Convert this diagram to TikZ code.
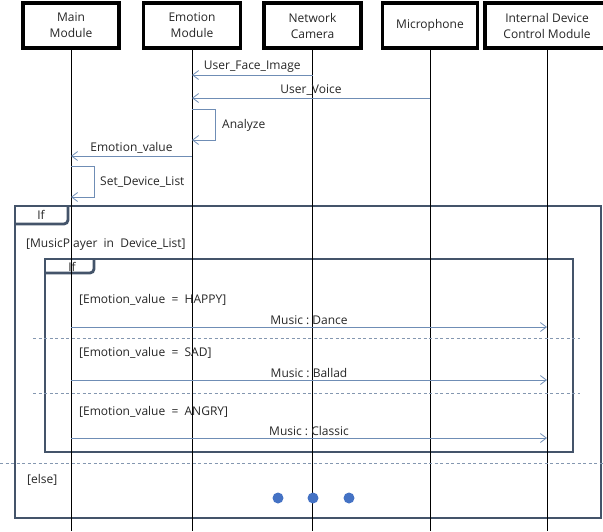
\documentclass[tikz,border=0pt]{standalone}
\usepackage{fontspec}
\setmainfont{Open Sans}
\usepackage{tikz}
\usetikzlibrary{arrows.meta,calc}
\usepackage{xcolor}
\definecolor{framec}{HTML}{44546A}
\definecolor{msgc}{HTML}{6F8DB5}
\definecolor{sepc}{HTML}{8497B0}
\definecolor{dotc}{HTML}{4472C4}
\tikzset{
  actor/.style={draw=black, line width=3.2pt, fill=white, minimum width=96pt, minimum height=45pt, align=center, inner sep=0pt},
  life/.style={line width=0.8pt},
  msg/.style={draw=msgc, line width=0.8pt, -{Straight Barb[length=6pt,width=9pt]}},
  lbl/.style={above, inner sep=2pt},
  frame/.style={draw=framec, line width=2.8pt},
  sep/.style={draw=sepc, line width=0.8pt, dash pattern=on 3pt off 2.5pt},
  guard/.style={anchor=west, inner sep=0pt},
  dot/.style={circle, fill=dotc, minimum size=11pt, inner sep=0pt}
}

\begin{document}
\begin{tikzpicture}[x=1pt, y=-1pt, font=\fontsize{12}{16}\selectfont, text=black!85]
\useasboundingbox (0,0) rectangle (603,531);
\draw [frame] (15,206) rectangle (601,518);
\draw [frame, rounded corners=4pt] (15,224) -- (68,224) -- (68,206);
\node (ifa) at (41,215) {If};
\node [guard] (gmp) at (26,244) {[MusicPlayer\ \ in\ \ Device\_List]};
\draw [frame] (45,259) rectangle (573,452);
\draw [frame, rounded corners=4pt] (45,273) -- (94,273) -- (94,259);
\node (ifb) at (72,267) {If};
\node [actor] (main) at (71,25.5) {Main\\Module};
\node [actor, minimum width=97pt] (emo) at (192,25.5) {Emotion\\Module};
\node [actor, minimum width=97pt] (cam) at (312.5,25.5) {Network\\Camera};
\node [actor, minimum width=95pt] (mic) at (430,25.5) {Microphone};
\node [actor, minimum width=124pt] (idc) at (547,25.5) {Internal Device\\Control Module};
\foreach \b in {main,emo,cam,mic,idc}
  \draw [life] (\b.south) -- (\b.south |- 0,531);
\draw [msg] (cam.south |- 0,75) -- node[lbl] {User\_Face\_Image} (emo.south |- 0,75);
\draw [msg] (mic.south |- 0,98) -- node[lbl] {User\_Voice} (emo.south |- 0,98);
\draw [msg] (emo.south |- 0,109) -- ++(23,0) |- (emo.south |- 0,140);
\node [right, inner sep=0pt] (anl) at (222,125) {Analyze};
\draw [msg] (emo.south |- 0,156) -- node[lbl] {Emotion\_value} (main.south |- 0,156);
\draw [msg] (main.south |- 0,166) -- ++(23,0) |- (main.south |- 0,197);
\node [right, inner sep=0pt] (sdl) at (100,182) {Set\_Device\_List};
\node [guard] (ghap) at (79,300) {[Emotion\_value\ \ =\ \ HAPPY]};
\draw [msg] (main.south |- 0,327) -- node[lbl] {Music\ :\ Dance} (idc.south |- 0,327);
\draw [sep] (33,338) -- (580,338);
\node [guard] (gsad) at (79,353) {[Emotion\_value\ \ =\ \ SAD]};
\draw [msg] (main.south |- 0,380) -- node[lbl] {Music\ :\ Ballad} (idc.south |- 0,380);
\draw [sep] (33,393) -- (580,393);
\node [guard] (gang) at (79,412) {[Emotion\_value\ \ =\ \ ANGRY]};
\draw [msg] (main.south |- 0,438) -- node[lbl] {Music\ :\ Classic} (idc.south |- 0,438);
\draw [sep] (0,463) -- (603,463);
\node [guard] (gels) at (27,480) {[else]};
\node [dot] (d1) at (278,498) {};
\node [dot] (d2) at (313,498) {};
\node [dot] (d3) at (349,498) {};
\end{tikzpicture}
\end{document}
